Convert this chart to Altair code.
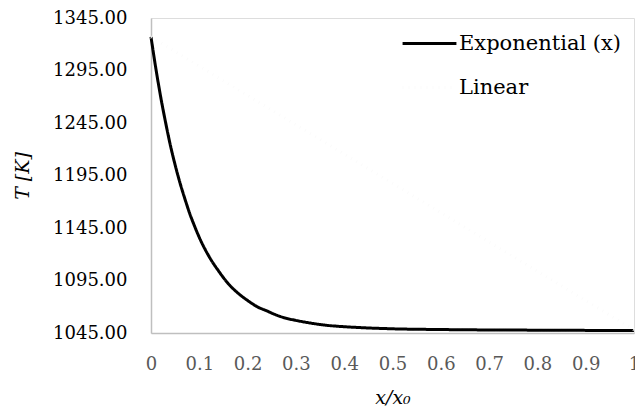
import altair as alt
import pandas as pd

# Exponential (x) series
exp_x = [0.0, 0.01, 0.02, 0.03, 0.04, 0.05, 0.06, 0.07, 0.08, 0.09, 0.10,
         0.12, 0.14, 0.16, 0.18, 0.20, 0.22, 0.24, 0.26, 0.28, 0.30,
         0.33, 0.36, 0.40, 0.45, 0.50, 0.60, 0.70, 0.80, 0.90, 1.00]
exp_t = [1327, 1297, 1270, 1246, 1224, 1205, 1188, 1173, 1159, 1147, 1136,
         1118, 1104, 1092, 1083, 1076, 1070, 1066, 1062, 1059, 1057,
         1054.5, 1052.5, 1051, 1049.8, 1049, 1048.3, 1047.9, 1047.7, 1047.5, 1047.5]

# Linear series (drawn near-white, dotted)
lin_x = [0.0, 1.0]
lin_t = [1327, 1048]

series_names = ["Exponential (x)", "Linear"]
y_ticks = [1045, 1095, 1145, 1195, 1245, 1295, 1345]
x_ticks = [0, 0.1, 0.2, 0.3, 0.4, 0.5, 0.6, 0.7, 0.8, 0.9, 1]

rows = []
for i, (x, t) in enumerate(zip(exp_x, exp_t)):
    rows.append({"series": series_names[0], "x": x, "T": t, "o": i})
for i, (x, t) in enumerate(zip(lin_x, lin_t)):
    rows.append({"series": series_names[1], "x": x, "T": t, "o": i})
df = pd.DataFrame(rows)

FONT = "DejaVu Serif"

chart = alt.Chart(df).mark_line(strokeWidth=3, interpolate="monotone").encode(
    x=alt.X("x:Q",
            scale=alt.Scale(domain=[0, 1], nice=False, zero=False),
            axis=alt.Axis(values=x_ticks, format="~g", title="x/x₀",
                          grid=False, ticks=False, domainColor="#bfbfbf",
                          domainWidth=1.5, labelColor="#595959",
                          labelFont=FONT, labelFontSize=18, labelPadding=22,
                          titleFont=FONT, titleFontSize=19, titleFontStyle="italic",
                          titleFontWeight="normal", titleColor="#000000",
                          titlePadding=15, labelFlush=False)),
    y=alt.Y("T:Q",
            scale=alt.Scale(domain=[1045, 1345], nice=False, zero=False),
            axis=alt.Axis(values=y_ticks, format=".2f", title="T [K]",
                          grid=False, ticks=False, domainColor="#bfbfbf",
                          domainWidth=1.5, labelColor="#000000",
                          labelFont=FONT, labelFontSize=18, labelPadding=24,
                          titleFont=FONT, titleFontSize=19, titleFontStyle="italic",
                          titleFontWeight="normal", titleColor="#000000",
                          titlePadding=20)),
    color=alt.Color("series:N",
                    scale=alt.Scale(domain=series_names, range=["#000000", "#fbfbfb"]),
                    legend=alt.Legend(title=None, orient="none", legendX=250, legendY=-3,
                                      labelFont=FONT, labelFontSize=21, labelColor="#000000",
                                      labelLimit=400,
                                      symbolType="stroke", symbolSize=2900,
                                      symbolStrokeWidth=3, rowPadding=5, labelOffset=1)),
    strokeDash=alt.StrokeDash("series:N",
                              scale=alt.Scale(domain=series_names, range=[[1, 0], [1, 5]]),
                              legend=None),
    order="o:Q",
).properties(
    width=483, height=315,
    autosize=alt.AutoSizeParams(type="none"),
    padding={"left": 143, "top": 10, "right": 1, "bottom": 80},
).configure_view(stroke=None).configure(background="white")

chart.save("out.html", embed_options={"renderer": "svg", "actions": False})
